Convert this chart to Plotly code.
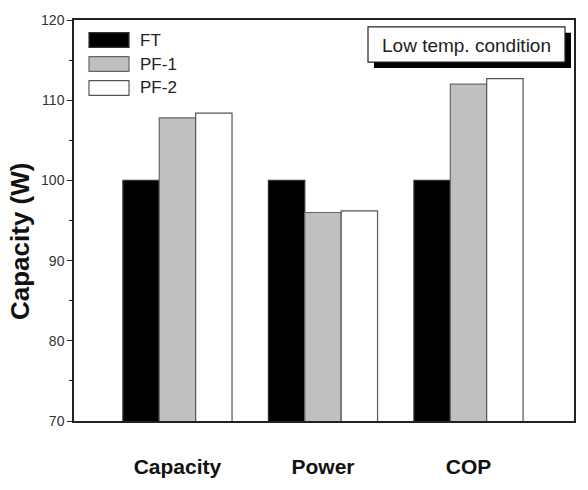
import plotly.graph_objects as go

categories = ["Capacity", "Power", "COP"]
series_names = ["FT", "PF-1", "PF-2"]
ft_values = [100.0, 100.0, 100.0]
pf1_values = [107.8, 96.0, 112.0]
pf2_values = [108.4, 96.2, 112.7]
y_ticks = [70, 80, 90, 100, 110, 120]
y_title = "Capacity (W)"
condition_label = "Low temp. condition"

fills = ["#000000", "#c0c0c0", "#ffffff"]
outlines = ["#333333", "#666666", "#555555"]

W, H = 588, 490
L, R, T, B = 74, 14, 13, 67
pw, ph = W - L - R, H - T - B
FONT = "Liberation Sans, Arial"

def px(x):
    return (x - L) / pw

def py(y):
    return (H - B - y) / ph

fig = go.Figure()
for name, vals, fc, lc in zip(series_names, [ft_values, pf1_values, pf2_values], fills, outlines):
    fig.add_trace(go.Bar(
        x=categories, y=vals, name=name,
        marker=dict(color=fc, line=dict(color=lc, width=1.2)),
        showlegend=False,
    ))

shapes = []
annotations = []
# custom legend
for i, (name, fc, lc) in enumerate(zip(series_names, fills, outlines)):
    y0 = 26 + i * 24.5
    shapes.append(dict(type="rect", xref="paper", yref="paper",
                       x0=px(89), x1=px(129), y0=py(y0 + 15), y1=py(y0),
                       fillcolor=fc, line=dict(color=lc, width=1.2)))
    annotations.append(dict(xref="paper", yref="paper", x=px(138), y=py(y0 + 7.5),
                            text=name, showarrow=False, xanchor="left", yanchor="middle",
                            font=dict(family=FONT, size=17, color="#222")))
# condition box with shadow
shapes.append(dict(type="rect", xref="paper", yref="paper",
                   x0=px(374), x1=px(571), y0=py(62), y1=py(26),
                   fillcolor="#000000", line=dict(color="#000000", width=0)))
shapes.append(dict(type="rect", xref="paper", yref="paper",
                   x0=px(368), x1=px(565), y0=py(56), y1=py(20),
                   fillcolor="#ffffff", line=dict(color="#222", width=1.2)))
annotations.append(dict(xref="paper", yref="paper", x=px(466.5), y=py(39),
                        text=condition_label, showarrow=False, xanchor="center", yanchor="middle",
                        font=dict(family=FONT, size=19, color="#222")))
# y-axis title
annotations.append(dict(xref="paper", yref="paper", x=px(20), y=py(240),
                        text="<b>" + y_title + "</b>", showarrow=False, textangle=-90,
                        xanchor="center", yanchor="middle",
                        font=dict(family=FONT, size=26, color="#111")))

fig.update_layout(
    width=W, height=H,
    margin=dict(l=L, r=R, t=T, b=B),
    paper_bgcolor="white", plot_bgcolor="white",
    barmode="group", bargap=0.25, bargroupgap=0,
    shapes=shapes, annotations=annotations,
    xaxis=dict(
        type="category", range=[-0.711, 2.725],
        showline=True, linecolor="#222", linewidth=1.5, mirror=True,
        ticks="", showgrid=False,
        tickfont=dict(family=FONT, size=21, color="#111"),
        ticklabelstandoff=26,
        tickprefix="<b>", ticksuffix="</b>",
    ),
    yaxis=dict(
        range=[70, 120],
        tickvals=y_ticks,
        showline=True, linecolor="#222", linewidth=1.5, mirror=True,
        ticks="outside", ticklen=5, tickwidth=1, tickcolor="#222",
        minor=dict(tickvals=[75, 85, 95, 105, 115], ticks="outside", ticklen=3, tickcolor="#222"),
        showgrid=False, zeroline=False,
        tickfont=dict(family=FONT, size=14, color="#333"),
    ),
)
fig.write_html("out.html")
